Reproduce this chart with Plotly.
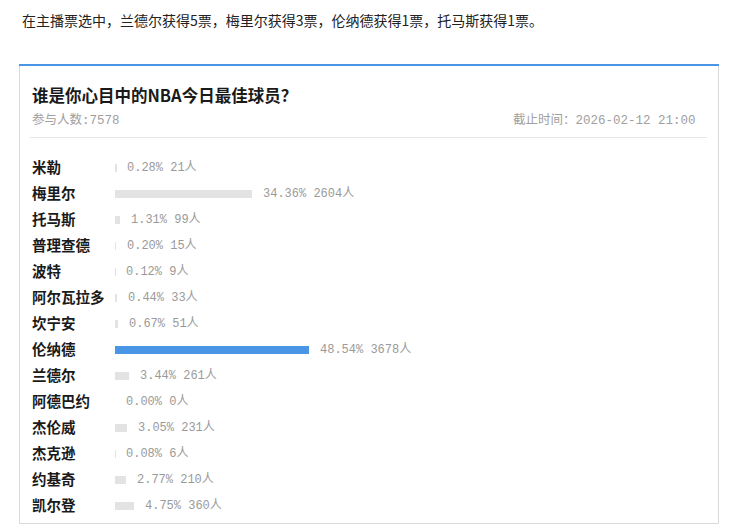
import plotly.graph_objects as go

# ---- data ----
intro_text = "在主播票选中，兰德尔获得5票，梅里尔获得3票，伦纳德获得1票，托马斯获得1票。"
poll_title = "谁是你心目中的NBA今日最佳球员？"
participants = 7578
deadline = "2026-02-12 21:00"

players = ["米勒", "梅里尔", "托马斯", "普理查德", "波特", "阿尔瓦拉多", "坎宁安",
           "伦纳德", "兰德尔", "阿德巴约", "杰伦威", "杰克逊", "约基奇", "凯尔登"]
percents = [0.28, 34.36, 1.31, 0.20, 0.12, 0.44, 0.67,
            48.54, 3.44, 0.00, 3.05, 0.08, 2.77, 4.75]
votes = [21, 2604, 99, 15, 9, 33, 51, 3678, 261, 0, 231, 6, 210, 360]

# page body has an 8px margin, so the figure starts at (8, 8) in the window
OFF = 8
W, H = 740 - OFF, 526 - OFF
BLUE = "#4a96e6"
GRAY_BAR = "#e3e3e3"
CJK = "Noto Sans CJK SC"
MONO = "Liberation Mono, Noto Sans CJK SC"


def px(x):
    return (x - OFF) / W


def py(y):
    return 1 - (y - OFF) / H


max_p = max(percents)
colors = [BLUE if p == max_p else GRAY_BAR for p in percents]

fig = go.Figure(go.Bar(
    x=percents, y=players, orientation="h",
    marker=dict(color=colors, line=dict(width=0)),
    width=0.31, hoverinfo="skip",
))

row_top, row_h = 154.8, 26.0
n = len(players)
plot_bottom = row_top + n * row_h

annotations = []
for name, p, v in zip(players, percents, votes):
    annotations.append(dict(
        xref="paper", x=px(30), yref="y", y=name, text=name,
        xanchor="left", yanchor="middle", showarrow=False, yshift=1.5,
        font=dict(family=CJK, size=14.5, color="#1a1a1a", weight="bold"),
    ))
    annotations.append(dict(
        xref="x", x=p, yref="y", y=name,
        text=f"{p:.2f}%\u00a0{v}人",
        xanchor="left", yanchor="middle", showarrow=False, xshift=9,
        font=dict(family=MONO, size=12, color="#9a9a9a"),
    ))

annotations += [
    dict(xref="paper", yref="paper", x=px(20), y=py(20), text=intro_text,
         xanchor="left", yanchor="middle", showarrow=False,
         font=dict(family=CJK, size=14, color="#222222")),
    dict(xref="paper", yref="paper", x=px(30), y=py(95), text=poll_title,
         xanchor="left", yanchor="middle", showarrow=False,
         font=dict(family=CJK, size=16.5, color="#1a1a1a", weight="bold")),
    dict(xref="paper", yref="paper", x=px(30), y=py(120),
         text=f"参与人数:{participants}",
         xanchor="left", yanchor="middle", showarrow=False,
         font=dict(family=MONO, size=12.5, color="#a0a0a0")),
    dict(xref="paper", yref="paper", x=px(698), y=py(120),
         text=f"截止时间：{deadline}",
         xanchor="right", yanchor="middle", showarrow=False,
         font=dict(family=MONO, size=12.5, color="#a0a0a0")),
]

shapes = [
    dict(type="rect", xref="paper", yref="paper",
         x0=px(19.5), x1=px(718.5), y0=py(523.5), y1=py(65),
         line=dict(color="#d9d9d9", width=1), fillcolor="rgba(0,0,0,0)", layer="below"),
    dict(type="line", xref="paper", yref="paper",
         x0=px(19), x1=px(719), y0=py(65), y1=py(65),
         line=dict(color=BLUE, width=2)),
    dict(type="line", xref="paper", yref="paper",
         x0=px(30), x1=px(707), y0=py(137.5), y1=py(137.5),
         line=dict(color="#e6e6e6", width=1)),
]

fig.update_layout(
    width=W, height=H,
    margin=dict(l=0, r=0, t=0, b=0, pad=0),
    paper_bgcolor="white", plot_bgcolor="white",
    showlegend=False,
    xaxis=dict(domain=[px(115), px(515)], range=[0, 100], visible=False, fixedrange=True),
    yaxis=dict(domain=[py(plot_bottom), py(row_top)], range=[n - 0.5, -0.5],
               type="category", visible=False, fixedrange=True),
    annotations=annotations, shapes=shapes,
    bargap=0,
)

fig.write_html("out.html")
